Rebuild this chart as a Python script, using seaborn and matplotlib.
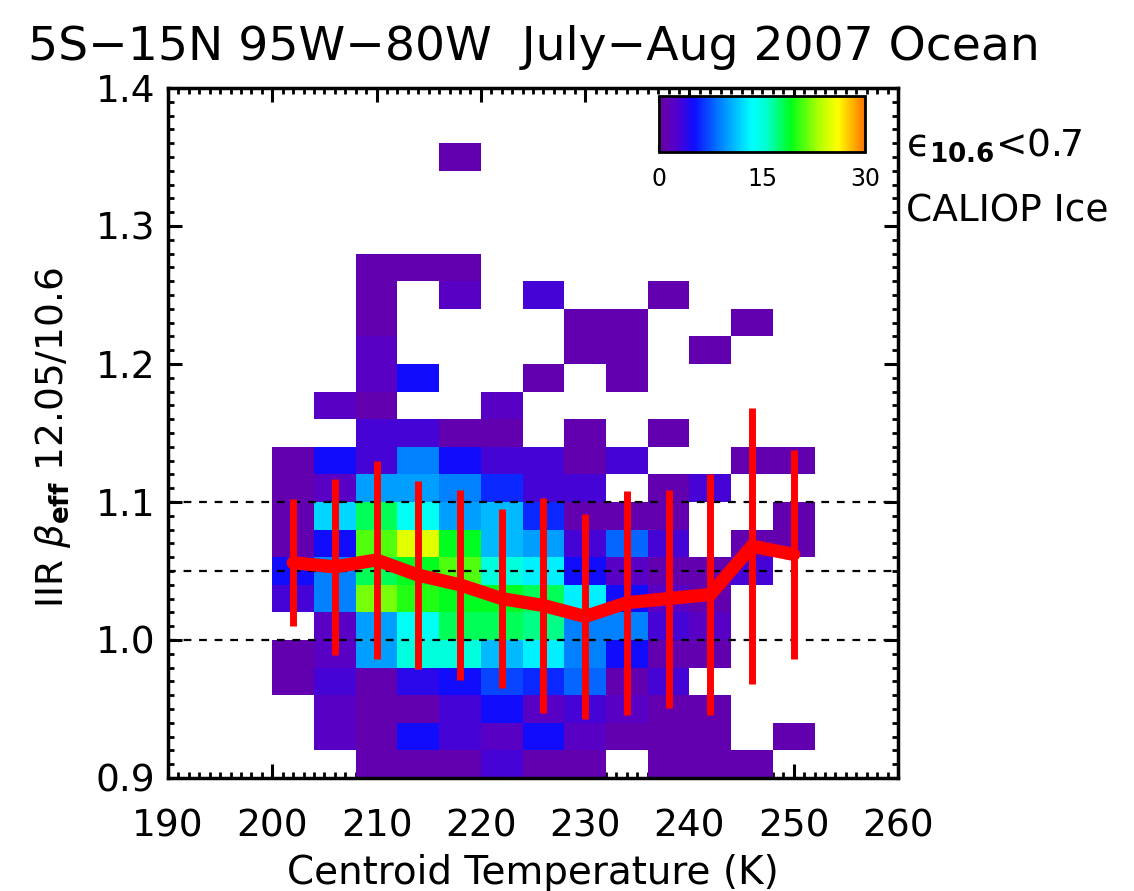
import numpy as np
import pandas as pd
import matplotlib
matplotlib.use("Agg")
import matplotlib.pyplot as plt
from matplotlib.colors import LinearSegmentedColormap
from matplotlib.ticker import MultipleLocator
import seaborn as sns

# ---------------- data ----------------
# temperature bins (K), 4 K wide
temp_edges = np.arange(200, 253, 4)            # 200 ... 252
# beta bins, 0.02 wide
beta_edges = np.round(np.arange(0.90, 1.4001, 0.02), 2)   # 0.90 ... 1.40

# counts per beta row (bottom row 0.90-0.92 first), columns 200-204 ... 248-252
counts = [
    [0, 0, 1, 1, 1, 3, 1, 1, 0, 1, 1, 1, 0],      # 0.90
    [0, 2, 1, 5, 3, 2, 5, 2, 1, 1, 1, 0, 1],      # 0.92
    [0, 2, 1, 1, 3, 5, 2, 3, 2, 1, 1, 0, 0],      # 0.94
    [1, 3, 1, 4, 5, 7, 6, 8, 1, 3, 0, 0, 0],      # 0.96
    [1, 2, 10, 15, 15, 11, 13, 9, 5, 1, 1, 0, 0], # 0.98
    [0, 2, 10, 14, 18, 18, 17, 9, 9, 3, 2, 0, 0], # 1.00
    [3, 9, 22, 20, 19, 19, 18, 13, 5, 2, 1, 0, 0],# 1.02
    [5, 9, 18, 19, 21, 15, 13, 5, 2, 1, 1, 3, 0], # 1.04
    [1, 5, 21, 25, 19, 11, 10, 3, 8, 3, 0, 1, 1], # 1.06
    [1, 12, 18, 14, 10, 11, 6, 1, 1, 1, 0, 0, 1], # 1.08
    [1, 2, 10, 10, 9, 6, 3, 3, 0, 1, 3, 0, 0],    # 1.10
    [1, 5, 3, 9, 5, 3, 3, 1, 3, 0, 0, 1, 1],      # 1.12
    [0, 0, 3, 3, 1, 1, 0, 1, 0, 1, 0, 0, 0],      # 1.14
    [0, 2, 1, 0, 0, 2, 0, 0, 0, 0, 0, 0, 0],      # 1.16
    [0, 0, 2, 5, 0, 0, 1, 0, 1, 0, 0, 0, 0],      # 1.18
    [0, 0, 2, 0, 0, 0, 0, 1, 1, 0, 1, 0, 0],      # 1.20
    [0, 0, 1, 0, 0, 0, 0, 1, 1, 0, 0, 1, 0],      # 1.22
    [0, 0, 1, 0, 2, 0, 3, 0, 0, 1, 0, 0, 0],      # 1.24
    [0, 0, 1, 1, 1, 0, 0, 0, 0, 0, 0, 0, 0],      # 1.26
    [0, 0, 0, 0, 0, 0, 0, 0, 0, 0, 0, 0, 0],      # 1.28
    [0, 0, 0, 0, 0, 0, 0, 0, 0, 0, 0, 0, 0],      # 1.30
    [0, 0, 0, 0, 0, 0, 0, 0, 0, 0, 0, 0, 0],      # 1.32
    [0, 0, 0, 0, 1, 0, 0, 0, 0, 0, 0, 0, 0],      # 1.34
    [0, 0, 0, 0, 0, 0, 0, 0, 0, 0, 0, 0, 0],      # 1.36
    [0, 0, 0, 0, 0, 0, 0, 0, 0, 0, 0, 0, 0],      # 1.38
]

# mean beta and standard deviation per temperature bin
mean_temps = [202, 206, 210, 214, 218, 222, 226, 230, 234, 238, 242, 246, 250]
mean_beta = [1.056, 1.053, 1.058, 1.047, 1.040, 1.030, 1.025, 1.017, 1.027,
             1.030, 1.033, 1.068, 1.062]
std_beta = [0.046, 0.064, 0.072, 0.068, 0.069, 0.065, 0.078, 0.074, 0.081,
            0.079, 0.087, 0.100, 0.076]

ref_lines = [1.00, 1.05, 1.10]
xticks = [190, 200, 210, 220, 230, 240, 250, 260]
yticks = [0.9, 1.0, 1.1, 1.2, 1.3, 1.4]
cbar_ticks = [0, 15, 30]

# ---------------- long-form table ----------------
xc = (temp_edges[:-1] + temp_edges[1:]) / 2
yc = (beta_edges[:-1] + beta_edges[1:]) / 2
XX, YY = np.meshgrid(xc, yc)
df = pd.DataFrame({"T": XX.ravel(), "beta": YY.ravel(),
                   "n": np.asarray(counts, float).ravel()})

# IDL-like rainbow colour table
cmap = LinearSegmentedColormap.from_list("idl_rainbow", [
    (0.00, (0.42, 0.00, 0.62)),
    (0.08, (0.33, 0.00, 0.80)),
    (0.17, (0.05, 0.05, 1.00)),
    (0.31, (0.00, 0.55, 1.00)),
    (0.45, (0.00, 1.00, 1.00)),
    (0.52, (0.00, 1.00, 0.82)),
    (0.64, (0.00, 1.00, 0.10)),
    (0.78, (0.70, 1.00, 0.00)),
    (0.87, (1.00, 1.00, 0.00)),
    (1.00, (1.00, 0.45, 0.00)),
])

sns.set_style("white")
plt.rcParams["font.family"] = ["DejaVu Sans"]
plt.rcParams["mathtext.fontset"] = "dejavusans"
plt.rcParams["text.color"] = "black"
plt.rcParams["axes.labelcolor"] = "black"
plt.rcParams["xtick.color"] = "black"
plt.rcParams["ytick.color"] = "black"
plt.rcParams["xtick.labelsize"] = 17

fig = plt.figure(figsize=(11.34, 8.91), dpi=100)
ax = fig.add_axes([168/1134, 1-778/891, 730/1134, 690/891])
cax = fig.add_axes([659/1134, 1-152/891, 206/1134, 56/891])

sns.histplot(data=df, x="T", y="beta", weights="n",
             bins=[temp_edges, beta_edges], cmap=cmap, vmin=0, vmax=30,
             cbar=True, cbar_ax=cax,
             cbar_kws={"orientation": "horizontal", "ticks": cbar_ticks},
             ax=ax, zorder=1)

for yv in ref_lines:
    ax.axhline(yv, color="black", lw=1.6, ls=(0, (3.5, 3.5)), zorder=1.5)

sns.lineplot(x=mean_temps, y=mean_beta, color="red", lw=9.5, ax=ax,
             zorder=3, solid_joinstyle="miter")
ax.errorbar(mean_temps, mean_beta, yerr=std_beta, fmt="none",
            ecolor="red", elinewidth=5, capsize=0, zorder=3)

ax.set_xlim(190, 260)
ax.set_ylim(0.9, 1.4)
ax.set_xticks(xticks)
ax.set_yticks(yticks)
ax.set_yticklabels([f"{v:.1f}" for v in yticks])
ax.xaxis.set_minor_locator(MultipleLocator(1))
ax.yaxis.set_minor_locator(MultipleLocator(0.01))
ax.set_axisbelow(True)
ax.tick_params(which="major", direction="in", length=10, width=2.2,
               top=True, right=True, bottom=True, left=True,
               labelsize=27, color="black", labelcolor="black")
ax.tick_params(which="minor", direction="in", length=4.5, width=2.0,
               top=True, right=True, bottom=True, left=True, color="black")
ax.tick_params(axis="x", which="major", pad=22)
ax.tick_params(axis="y", which="major", pad=9)
for s in ax.spines.values():
    s.set_linewidth(2.5)
    s.set_color("black")
    s.set_visible(True)
    s.set_zorder(4)

ax.set_xlabel("Centroid Temperature (K)", fontsize=28, color="black")
ax.xaxis.set_label_coords(0.5, -0.11)
ax.set_ylabel(r"IIR $\beta_{\mathbf{eff}}$ 12.05/10.6", fontsize=27,
              color="black")
ax.yaxis.set_label_coords(-0.13, 0.494)

# colourbar styling
cax.set_xticks(cbar_ticks, labels=[str(t) for t in cbar_ticks], fontsize=17)
cax.tick_params(which="major", direction="in", length=5, width=1.5,
                top=True, bottom=True, labelsize=17, pad=11,
                color="black", labelcolor="black")
cax.tick_params(which="minor", length=0)
for s in cax.spines.values():
    s.set_linewidth(2)
    s.set_color("black")
cax.set_xlabel("")

fig.text(534/1134, 1-48/891, "5S\u221215N 95W\u221280W  July\u2212Aug 2007 Ocean",
         ha="center", va="center", fontsize=34)
fig.text(906/1134, 1-145/891, "\u03f5$_{\\mathbf{10.6}}$<0.7",
         ha="left", va="center", fontsize=27)
fig.text(906/1134, 1-212/891, "CALIOP Ice",
         ha="left", va="center", fontsize=27)

fig.savefig("out.png", dpi=100)
